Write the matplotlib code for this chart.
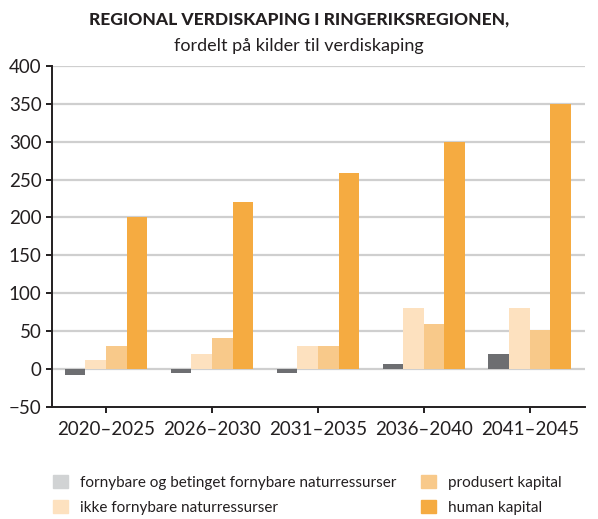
import matplotlib.pyplot as plt
import numpy as np
from matplotlib.patches import Patch

plt.rcParams['font.family'] = ['Lato', 'DejaVu Sans']

# data
periods = ['2020–2025', '2026–2030', '2031–2035', '2036–2040', '2041–2045']
fornybare = [-8, -5, -5, 6, 20]
ikke_fornybare = [12, 20, 31, 81, 81]
produsert = [31, 41, 31, 60, 51]
human = [200, 220, 259, 300, 350]

series = [fornybare, ikke_fornybare, produsert, human]
labels = ['fornybare og betinget fornybare naturressurser',
          'ikke fornybare naturressurser',
          'produsert kapital',
          'human kapital']
colors = ['#6d6e71', '#fde1bf', '#f8c98a', '#f5ab41']
legend_colors = ['#d1d3d4', '#fde1bf', '#f8c98a', '#f5ab41']

fig = plt.figure(figsize=(5.98, 5.19), dpi=100)
ax = fig.add_axes([0.087, 0.216, 0.891, 0.657])

x = np.arange(len(periods))
w = 0.195
for i, (vals, c) in enumerate(zip(series, colors)):
    ax.bar(x + (i - 1.5) * w, vals, w, color=c, zorder=3)

ax.set_xlim(-0.51, 4.52)
ax.set_ylim(-50, 400)
ax.set_yticks(range(-50, 401, 50))
ax.set_yticklabels([str(v).replace('-', '−') for v in range(-50, 401, 50)])
ax.set_xticks(x)
ax.set_xticklabels(periods)
for v in range(0, 401, 50):
    ax.axhline(v, color='#cfcfcf', lw=1.6, zorder=1)

for s in ['top', 'right']:
    ax.spines[s].set_visible(False)
for s in ['left', 'bottom']:
    ax.spines[s].set_color('#231f20')
    ax.spines[s].set_linewidth(1.4)
ax.tick_params(axis='both', colors='#231f20', labelsize=13.5, width=1.4, length=4)
ax.tick_params(axis='x', pad=6)

fig.text(0.5, 0.962, 'REGIONAL VERDISKAPING I RINGERIKSREGIONEN,',
         ha='center', va='center', fontsize=12.5, fontweight='black', color='#231f20')
fig.text(0.5, 0.912, 'fordelt på kilder til verdiskaping',
         ha='center', va='center', fontsize=13, color='#231f20')

handles = [Patch(color=c) for c in legend_colors]
fig.legend(handles, labels,
           loc='lower left', bbox_to_anchor=(0.065, -0.018), ncol=2, frameon=False,
           fontsize=11, handlelength=1.0, handleheight=1.0, handletextpad=0.8,
           columnspacing=1.6, labelspacing=0.65, labelcolor='#231f20')

fig.savefig('out.png', dpi=100)
